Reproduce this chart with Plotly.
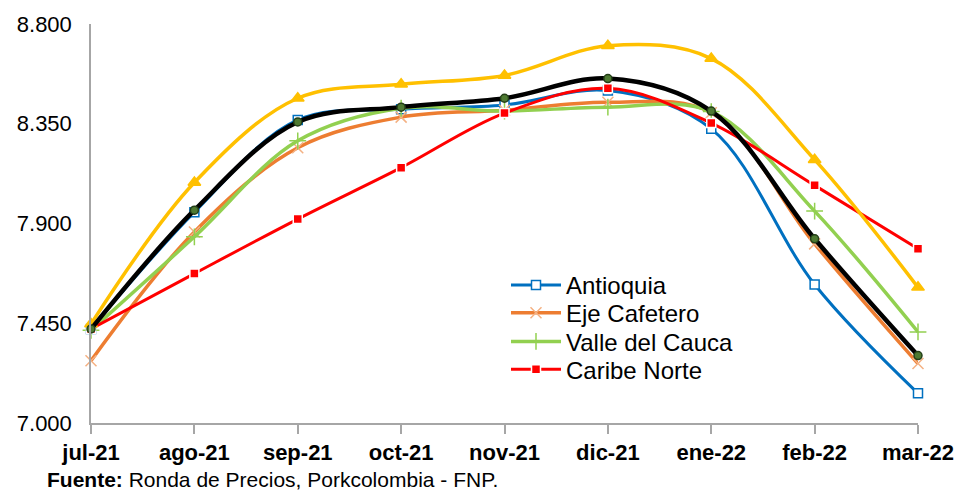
import plotly.graph_objects as go

months = ["jul-21", "ago-21", "sep-21", "oct-21", "nov-21", "dic-21", "ene-22", "feb-22", "mar-22"]
antioquia = [7424, 7951, 8367, 8415, 8435, 8500, 8327, 7625, 7134]
eje_cafetero = [7281, 7862, 8242, 8380, 8411, 8447, 8400, 7808, 7268]
valle_cauca = [7418, 7840, 8273, 8420, 8407, 8425, 8405, 7956, 7411]
caribe_norte = [7424, 7674, 7920, 8152, 8398, 8510, 8353, 8072, 7786]
otra_region = [7447, 8085, 8465, 8528, 8568, 8702, 8644, 8188, 7612]
promedio = [7424, 7960, 8358, 8425, 8465, 8554, 8407, 7831, 7304]

y_ticks = [7000, 7450, 7900, 8350, 8800]
y_tick_text = ["7.000", "7.450", "7.900", "8.350", "8.800"]

FONT = "Liberation Sans, Arial, sans-serif"

fig = go.Figure()

def add(name, y, color, width, symbol, msize, mfill, mline, legend, show=True):
    fig.add_trace(go.Scatter(
        x=months, y=y, name=name, mode="lines+markers",
        line=dict(color=color, width=width, shape="spline", smoothing=1.0),
        marker=dict(symbol=symbol, size=msize, color=mfill,
                    line=dict(color=mline, width=1.5)),
        cliponaxis=False, showlegend=show, legend=legend,
    ))

add("Antioquia", antioquia, "#0070C0", 3, "square", 9, "white", "#0070C0", "legend")
add("Eje Cafetero", eje_cafetero, "#ED7D31", 3.5, "x-thin", 11, "#F4B183", "#F4B183", "legend2")
add("Valle del Cauca", valle_cauca, "#92D050", 3.5, "cross-thin", 12, "#92D050", "#92D050", "legend3")
add("Caribe Norte", caribe_norte, "#FF0000", 3, "square", 9, "#FF0000", "white", "legend4")
add("Otra región", otra_region, "#FFC000", 3.5, "triangle-up", 11, "#FFC000", "#FFC000", "legend", False)
add("Promedio", promedio, "#000000", 4.5, "circle", 8, "#4E7A32", "#243F18", "legend", False)

H_PLOT = 403.0

def legend_cfg(y_px):
    return dict(
        x=(506 - 91) / 827.0, xanchor="left",
        y=(423 - y_px) / H_PLOT, yanchor="middle",
        bgcolor="rgba(0,0,0,0)", borderwidth=0,
        font=dict(family=FONT, size=24, color="#000000"),
        itemwidth=50, tracegroupgap=0,
    )

fig.update_layout(
    width=971, height=491,
    margin=dict(l=91, r=53, t=20, b=68),
    paper_bgcolor="white", plot_bgcolor="white",
    font=dict(family=FONT, color="#000000"),
    xaxis=dict(
        type="category", range=[0, 8],
        showline=True, linecolor="#A6A6A6", linewidth=1.5,
        ticks="outside", ticklen=9, tickcolor="#A6A6A6", tickwidth=1.5,
        showgrid=False, zeroline=False,
        tickfont=dict(family=FONT, size=22, color="#000000", weight="bold"),
    ),
    yaxis=dict(
        range=[7000, 8800], tickvals=y_ticks, ticktext=y_tick_text,
        showline=True, linecolor="#A6A6A6", linewidth=1.5,
        ticks="", showgrid=False, zeroline=False,
        tickfont=dict(family=FONT, size=22, color="#000000"),
        ticklabelstandoff=13,
    ),
    legend=legend_cfg(284),
    legend2=legend_cfg(312),
    legend3=legend_cfg(341),
    legend4=legend_cfg(369),
    annotations=[dict(
        xref="paper", yref="paper", x=(45 - 91) / 827.0, y=(423 - 480) / H_PLOT,
        xanchor="left", yanchor="middle", showarrow=False,
        text="<b>Fuente:</b> Ronda de Precios, Porkcolombia - FNP.",
        font=dict(family=FONT, size=21, color="#000000"),
    )],
)

fig.write_html(
    "out.html",
    config={"displayModeBar": False},
    post_script="document.body.style.margin='0';document.body.style.overflow='hidden';",
)
